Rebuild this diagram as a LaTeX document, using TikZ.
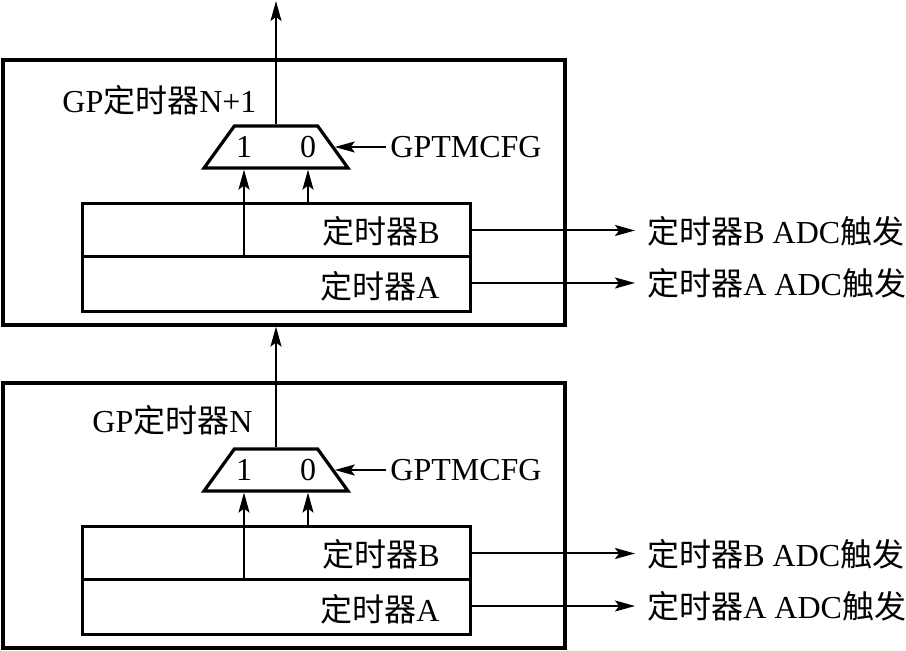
\documentclass[tikz,border=0pt]{standalone}
\usepackage{fontspec}
\setmainfont{Liberation Serif}
\newfontfamily\cjk{Noto Sans CJK SC}
\usetikzlibrary{arrows.meta,shapes.geometric}

\tikzset{
  gpbox/.style={draw,line width=1.6pt,minimum width=281pt,minimum height=132.5pt,inner sep=0pt},
  tmrbox/.style={draw,line width=1.5pt,minimum width=194pt,inner sep=0pt},
  mux/.style={draw,line width=1.6pt,trapezium,trapezium left angle=70,trapezium right angle=70,
    trapezium stretches=true,minimum width=72pt,minimum height=21pt,inner sep=2pt},
  sig/.style={line width=1pt,-{Stealth[length=10pt,width=5.5pt,inset=2pt]}},
  txt/.style={font=\fontsize{16}{19}\selectfont,inner sep=2pt},
  outtxt/.style={txt,anchor=west,inner xsep=6pt},
}

\begin{document}
\begin{tikzpicture}[x=0.5pt,y=-0.5pt]
    \useasboundingbox (0,0) rectangle (906,651);
    % GP timer N+1
    \node[gpbox] (gpT) at (284,192.5) {};
    \node[txt,anchor=west] (nameT) at (58,100) {GP{\cjk 定时器}N+1};
    \node[mux] (muxT) at (276,147) {};
    \node[txt] (oneT) at (244,147) {1};
    \node[txt] (zeroT) at (308,147) {0};
    \node[txt,anchor=west] (cfgT) at (386,147) {GPTMCFG};
    \node[tmrbox,minimum height=26.5pt] (tbT) at (276,230.5) {};
    \node[tmrbox,minimum height=27.5pt] (taT) at (276,284.5) {};
    \node[txt,anchor=east] (tbtxtT) at (444,231) {{\cjk 定时器}B};
    \node[txt,anchor=east] (tatxtT) at (444,286) {{\cjk 定时器}A};
    \node[outtxt] (outBT) at (635,231) {{\cjk 定时器}B ADC{\cjk 触发}};
    \node[outtxt] (outAT) at (635,283) {{\cjk 定时器}A ADC{\cjk 触发}};
    \coordinate (topend) at (278,1);
    \draw[sig] (muxT.north) -- (muxT.north |- topend);
    \draw[sig] (cfgT.west) -- (muxT.east);
    \draw[sig] (tbT.south -| oneT) -- (oneT |- muxT.south);
    \draw[sig] (tbT.north -| zeroT) -- (zeroT |- muxT.south);
    \draw[sig] (tbT.east) -- (tbT.east -| outBT.west);
    \draw[sig] (taT.east |- outAT) -- (outAT.west);
    % GP timer N
    \node[gpbox] (gpN) at (284,515.5) {};
    \node[txt,anchor=west] (nameN) at (88,420) {GP{\cjk 定时器}N};
    \node[mux] (muxN) at (276,470) {};
    \node[txt] (oneN) at (244,470) {1};
    \node[txt] (zeroN) at (308,470) {0};
    \node[txt,anchor=west] (cfgN) at (386,470) {GPTMCFG};
    \node[tmrbox,minimum height=26.5pt] (tbN) at (276,553.5) {};
    \node[tmrbox,minimum height=27.5pt] (taN) at (276,607.5) {};
    \node[txt,anchor=east] (tbtxtN) at (444,554) {{\cjk 定时器}B};
    \node[txt,anchor=east] (tatxtN) at (444,609) {{\cjk 定时器}A};
    \node[outtxt] (outBN) at (635,554) {{\cjk 定时器}B ADC{\cjk 触发}};
    \node[outtxt] (outAN) at (635,606) {{\cjk 定时器}A ADC{\cjk 触发}};
    \draw[sig] (muxN.north) -- (muxN.north |- gpT.south);
    \draw[sig] (cfgN.west) -- (muxN.east);
    \draw[sig] (tbN.south -| oneN) -- (oneN |- muxN.south);
    \draw[sig] (tbN.north -| zeroN) -- (zeroN |- muxN.south);
    \draw[sig] (tbN.east) -- (tbN.east -| outBN.west);
    \draw[sig] (taN.east |- outAN) -- (outAN.west);
\end{tikzpicture}
\end{document}
